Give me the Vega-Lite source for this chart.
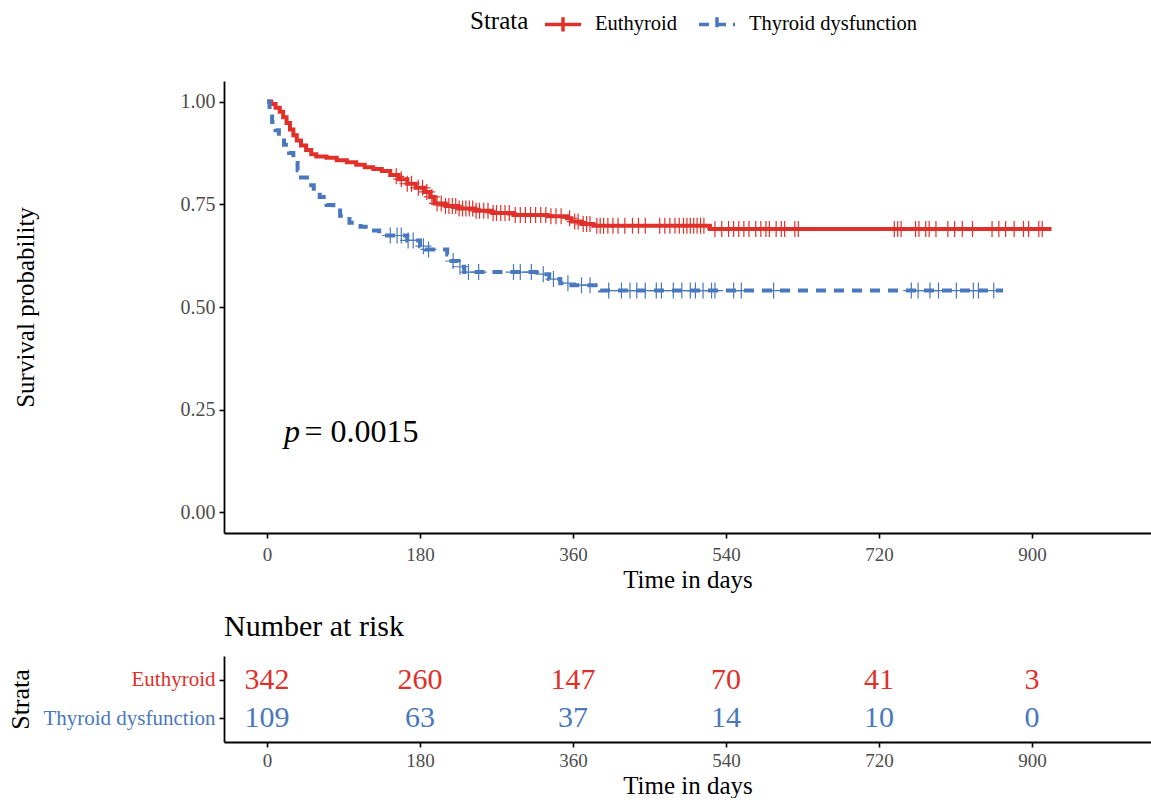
{
  "$schema": "https://vega.github.io/schema/vega-lite/v6.json",
  "background": "white",
  "padding": {"left": 7, "top": 4, "right": 0, "bottom": 0},
  "datasets": {
    "curve": [
      {"strata": "Euthyroid", "time": 0, "surv": 1.0},
      {"strata": "Euthyroid", "time": 5, "surv": 0.994},
      {"strata": "Euthyroid", "time": 10, "surv": 0.985},
      {"strata": "Euthyroid", "time": 15, "surv": 0.975},
      {"strata": "Euthyroid", "time": 19, "surv": 0.962},
      {"strata": "Euthyroid", "time": 23, "surv": 0.948},
      {"strata": "Euthyroid", "time": 27, "surv": 0.932},
      {"strata": "Euthyroid", "time": 31, "surv": 0.918},
      {"strata": "Euthyroid", "time": 35, "surv": 0.905},
      {"strata": "Euthyroid", "time": 40, "surv": 0.893},
      {"strata": "Euthyroid", "time": 46, "surv": 0.882},
      {"strata": "Euthyroid", "time": 52, "surv": 0.872},
      {"strata": "Euthyroid", "time": 58, "surv": 0.866},
      {"strata": "Euthyroid", "time": 70, "surv": 0.863},
      {"strata": "Euthyroid", "time": 82, "surv": 0.857},
      {"strata": "Euthyroid", "time": 94, "surv": 0.852},
      {"strata": "Euthyroid", "time": 105, "surv": 0.846},
      {"strata": "Euthyroid", "time": 115, "surv": 0.84},
      {"strata": "Euthyroid", "time": 125, "surv": 0.836},
      {"strata": "Euthyroid", "time": 135, "surv": 0.831},
      {"strata": "Euthyroid", "time": 145, "surv": 0.821},
      {"strata": "Euthyroid", "time": 155, "surv": 0.811},
      {"strata": "Euthyroid", "time": 165, "surv": 0.8},
      {"strata": "Euthyroid", "time": 175, "surv": 0.79},
      {"strata": "Euthyroid", "time": 185, "surv": 0.78},
      {"strata": "Euthyroid", "time": 192, "surv": 0.768},
      {"strata": "Euthyroid", "time": 197, "surv": 0.752},
      {"strata": "Euthyroid", "time": 210, "surv": 0.746},
      {"strata": "Euthyroid", "time": 225, "surv": 0.74},
      {"strata": "Euthyroid", "time": 245, "surv": 0.734},
      {"strata": "Euthyroid", "time": 265, "surv": 0.729},
      {"strata": "Euthyroid", "time": 290, "surv": 0.724},
      {"strata": "Euthyroid", "time": 330, "surv": 0.721},
      {"strata": "Euthyroid", "time": 353, "surv": 0.716},
      {"strata": "Euthyroid", "time": 358, "surv": 0.708},
      {"strata": "Euthyroid", "time": 370, "surv": 0.702},
      {"strata": "Euthyroid", "time": 384, "surv": 0.698},
      {"strata": "Euthyroid", "time": 521, "surv": 0.69},
      {"strata": "Euthyroid", "time": 923, "surv": 0.69},
      {"strata": "Thyroid dysfunction", "time": 0, "surv": 1.0},
      {"strata": "Thyroid dysfunction", "time": 3, "surv": 0.97},
      {"strata": "Thyroid dysfunction", "time": 6, "surv": 0.95},
      {"strata": "Thyroid dysfunction", "time": 10, "surv": 0.93},
      {"strata": "Thyroid dysfunction", "time": 14, "surv": 0.91},
      {"strata": "Thyroid dysfunction", "time": 20, "surv": 0.895},
      {"strata": "Thyroid dysfunction", "time": 26, "surv": 0.875},
      {"strata": "Thyroid dysfunction", "time": 31, "surv": 0.856},
      {"strata": "Thyroid dysfunction", "time": 36, "surv": 0.833},
      {"strata": "Thyroid dysfunction", "time": 40, "surv": 0.815},
      {"strata": "Thyroid dysfunction", "time": 47, "surv": 0.796},
      {"strata": "Thyroid dysfunction", "time": 55, "surv": 0.782},
      {"strata": "Thyroid dysfunction", "time": 62, "surv": 0.768},
      {"strata": "Thyroid dysfunction", "time": 70, "surv": 0.748},
      {"strata": "Thyroid dysfunction", "time": 78, "surv": 0.735},
      {"strata": "Thyroid dysfunction", "time": 86, "surv": 0.722},
      {"strata": "Thyroid dysfunction", "time": 97, "surv": 0.705},
      {"strata": "Thyroid dysfunction", "time": 110, "surv": 0.695},
      {"strata": "Thyroid dysfunction", "time": 120, "surv": 0.686},
      {"strata": "Thyroid dysfunction", "time": 132, "surv": 0.674},
      {"strata": "Thyroid dysfunction", "time": 165, "surv": 0.662},
      {"strata": "Thyroid dysfunction", "time": 180, "surv": 0.648},
      {"strata": "Thyroid dysfunction", "time": 186, "surv": 0.64},
      {"strata": "Thyroid dysfunction", "time": 212, "surv": 0.628},
      {"strata": "Thyroid dysfunction", "time": 217, "surv": 0.612},
      {"strata": "Thyroid dysfunction", "time": 225, "surv": 0.598},
      {"strata": "Thyroid dysfunction", "time": 232, "surv": 0.585},
      {"strata": "Thyroid dysfunction", "time": 320, "surv": 0.58},
      {"strata": "Thyroid dysfunction", "time": 332, "surv": 0.568},
      {"strata": "Thyroid dysfunction", "time": 345, "surv": 0.558},
      {"strata": "Thyroid dysfunction", "time": 355, "surv": 0.553},
      {"strata": "Thyroid dysfunction", "time": 392, "surv": 0.54},
      {"strata": "Thyroid dysfunction", "time": 866, "surv": 0.54}
    ],
    "censor": [
      {"strata": "Euthyroid", "time": 152, "surv": 0.818},
      {"strata": "Euthyroid", "time": 158, "surv": 0.811},
      {"strata": "Euthyroid", "time": 165, "surv": 0.8},
      {"strata": "Euthyroid", "time": 170, "surv": 0.8},
      {"strata": "Euthyroid", "time": 178, "surv": 0.79},
      {"strata": "Euthyroid", "time": 183, "surv": 0.79},
      {"strata": "Euthyroid", "time": 188, "surv": 0.78},
      {"strata": "Euthyroid", "time": 194, "surv": 0.768},
      {"strata": "Euthyroid", "time": 200, "surv": 0.752},
      {"strata": "Euthyroid", "time": 205, "surv": 0.752},
      {"strata": "Euthyroid", "time": 210, "surv": 0.746},
      {"strata": "Euthyroid", "time": 214, "surv": 0.746},
      {"strata": "Euthyroid", "time": 218, "surv": 0.746},
      {"strata": "Euthyroid", "time": 222, "surv": 0.746},
      {"strata": "Euthyroid", "time": 226, "surv": 0.74},
      {"strata": "Euthyroid", "time": 230, "surv": 0.74},
      {"strata": "Euthyroid", "time": 234, "surv": 0.74},
      {"strata": "Euthyroid", "time": 238, "surv": 0.74},
      {"strata": "Euthyroid", "time": 242, "surv": 0.74},
      {"strata": "Euthyroid", "time": 246, "surv": 0.734},
      {"strata": "Euthyroid", "time": 250, "surv": 0.734},
      {"strata": "Euthyroid", "time": 255, "surv": 0.734},
      {"strata": "Euthyroid", "time": 260, "surv": 0.734},
      {"strata": "Euthyroid", "time": 266, "surv": 0.729},
      {"strata": "Euthyroid", "time": 270, "surv": 0.729},
      {"strata": "Euthyroid", "time": 275, "surv": 0.729},
      {"strata": "Euthyroid", "time": 280, "surv": 0.729},
      {"strata": "Euthyroid", "time": 285, "surv": 0.729},
      {"strata": "Euthyroid", "time": 292, "surv": 0.724},
      {"strata": "Euthyroid", "time": 298, "surv": 0.724},
      {"strata": "Euthyroid", "time": 304, "surv": 0.724},
      {"strata": "Euthyroid", "time": 310, "surv": 0.724},
      {"strata": "Euthyroid", "time": 316, "surv": 0.724},
      {"strata": "Euthyroid", "time": 322, "surv": 0.724},
      {"strata": "Euthyroid", "time": 328, "surv": 0.724},
      {"strata": "Euthyroid", "time": 334, "surv": 0.721},
      {"strata": "Euthyroid", "time": 340, "surv": 0.721},
      {"strata": "Euthyroid", "time": 346, "surv": 0.721},
      {"strata": "Euthyroid", "time": 356, "surv": 0.716},
      {"strata": "Euthyroid", "time": 362, "surv": 0.708},
      {"strata": "Euthyroid", "time": 366, "surv": 0.708},
      {"strata": "Euthyroid", "time": 372, "surv": 0.702},
      {"strata": "Euthyroid", "time": 376, "surv": 0.702},
      {"strata": "Euthyroid", "time": 380, "surv": 0.702},
      {"strata": "Euthyroid", "time": 388, "surv": 0.698},
      {"strata": "Euthyroid", "time": 392, "surv": 0.698},
      {"strata": "Euthyroid", "time": 396, "surv": 0.698},
      {"strata": "Euthyroid", "time": 401, "surv": 0.698},
      {"strata": "Euthyroid", "time": 407, "surv": 0.698},
      {"strata": "Euthyroid", "time": 413, "surv": 0.698},
      {"strata": "Euthyroid", "time": 421, "surv": 0.698},
      {"strata": "Euthyroid", "time": 430, "surv": 0.698},
      {"strata": "Euthyroid", "time": 437, "surv": 0.698},
      {"strata": "Euthyroid", "time": 445, "surv": 0.698},
      {"strata": "Euthyroid", "time": 462, "surv": 0.698},
      {"strata": "Euthyroid", "time": 468, "surv": 0.698},
      {"strata": "Euthyroid", "time": 474, "surv": 0.698},
      {"strata": "Euthyroid", "time": 480, "surv": 0.698},
      {"strata": "Euthyroid", "time": 485, "surv": 0.698},
      {"strata": "Euthyroid", "time": 490, "surv": 0.698},
      {"strata": "Euthyroid", "time": 494, "surv": 0.698},
      {"strata": "Euthyroid", "time": 498, "surv": 0.698},
      {"strata": "Euthyroid", "time": 502, "surv": 0.698},
      {"strata": "Euthyroid", "time": 506, "surv": 0.698},
      {"strata": "Euthyroid", "time": 510, "surv": 0.698},
      {"strata": "Euthyroid", "time": 514, "surv": 0.698},
      {"strata": "Euthyroid", "time": 527, "surv": 0.69},
      {"strata": "Euthyroid", "time": 535, "surv": 0.69},
      {"strata": "Euthyroid", "time": 543, "surv": 0.69},
      {"strata": "Euthyroid", "time": 549, "surv": 0.69},
      {"strata": "Euthyroid", "time": 555, "surv": 0.69},
      {"strata": "Euthyroid", "time": 561, "surv": 0.69},
      {"strata": "Euthyroid", "time": 567, "surv": 0.69},
      {"strata": "Euthyroid", "time": 575, "surv": 0.69},
      {"strata": "Euthyroid", "time": 581, "surv": 0.69},
      {"strata": "Euthyroid", "time": 587, "surv": 0.69},
      {"strata": "Euthyroid", "time": 591, "surv": 0.69},
      {"strata": "Euthyroid", "time": 599, "surv": 0.69},
      {"strata": "Euthyroid", "time": 605, "surv": 0.69},
      {"strata": "Euthyroid", "time": 609, "surv": 0.69},
      {"strata": "Euthyroid", "time": 621, "surv": 0.69},
      {"strata": "Euthyroid", "time": 625, "surv": 0.69},
      {"strata": "Euthyroid", "time": 738, "surv": 0.69},
      {"strata": "Euthyroid", "time": 742, "surv": 0.69},
      {"strata": "Euthyroid", "time": 746, "surv": 0.69},
      {"strata": "Euthyroid", "time": 763, "surv": 0.69},
      {"strata": "Euthyroid", "time": 767, "surv": 0.69},
      {"strata": "Euthyroid", "time": 775, "surv": 0.69},
      {"strata": "Euthyroid", "time": 779, "surv": 0.69},
      {"strata": "Euthyroid", "time": 787, "surv": 0.69},
      {"strata": "Euthyroid", "time": 801, "surv": 0.69},
      {"strata": "Euthyroid", "time": 809, "surv": 0.69},
      {"strata": "Euthyroid", "time": 818, "surv": 0.69},
      {"strata": "Euthyroid", "time": 830, "surv": 0.69},
      {"strata": "Euthyroid", "time": 853, "surv": 0.69},
      {"strata": "Euthyroid", "time": 861, "surv": 0.69},
      {"strata": "Euthyroid", "time": 869, "surv": 0.69},
      {"strata": "Euthyroid", "time": 879, "surv": 0.69},
      {"strata": "Euthyroid", "time": 890, "surv": 0.69},
      {"strata": "Euthyroid", "time": 896, "surv": 0.69},
      {"strata": "Euthyroid", "time": 908, "surv": 0.69},
      {"strata": "Euthyroid", "time": 912, "surv": 0.69},
      {"strata": "Thyroid dysfunction", "time": 145, "surv": 0.674},
      {"strata": "Thyroid dysfunction", "time": 153, "surv": 0.674},
      {"strata": "Thyroid dysfunction", "time": 158, "surv": 0.674},
      {"strata": "Thyroid dysfunction", "time": 166, "surv": 0.662},
      {"strata": "Thyroid dysfunction", "time": 172, "surv": 0.662},
      {"strata": "Thyroid dysfunction", "time": 184, "surv": 0.648},
      {"strata": "Thyroid dysfunction", "time": 190, "surv": 0.64},
      {"strata": "Thyroid dysfunction", "time": 219, "surv": 0.612},
      {"strata": "Thyroid dysfunction", "time": 227, "surv": 0.598},
      {"strata": "Thyroid dysfunction", "time": 237, "surv": 0.585},
      {"strata": "Thyroid dysfunction", "time": 249, "surv": 0.585},
      {"strata": "Thyroid dysfunction", "time": 290, "surv": 0.585},
      {"strata": "Thyroid dysfunction", "time": 298, "surv": 0.585},
      {"strata": "Thyroid dysfunction", "time": 311, "surv": 0.585},
      {"strata": "Thyroid dysfunction", "time": 325, "surv": 0.58},
      {"strata": "Thyroid dysfunction", "time": 337, "surv": 0.568},
      {"strata": "Thyroid dysfunction", "time": 354, "surv": 0.558},
      {"strata": "Thyroid dysfunction", "time": 370, "surv": 0.553},
      {"strata": "Thyroid dysfunction", "time": 380, "surv": 0.553},
      {"strata": "Thyroid dysfunction", "time": 402, "surv": 0.54},
      {"strata": "Thyroid dysfunction", "time": 417, "surv": 0.54},
      {"strata": "Thyroid dysfunction", "time": 427, "surv": 0.54},
      {"strata": "Thyroid dysfunction", "time": 435, "surv": 0.54},
      {"strata": "Thyroid dysfunction", "time": 445, "surv": 0.54},
      {"strata": "Thyroid dysfunction", "time": 458, "surv": 0.54},
      {"strata": "Thyroid dysfunction", "time": 464, "surv": 0.54},
      {"strata": "Thyroid dysfunction", "time": 478, "surv": 0.54},
      {"strata": "Thyroid dysfunction", "time": 488, "surv": 0.54},
      {"strata": "Thyroid dysfunction", "time": 498, "surv": 0.54},
      {"strata": "Thyroid dysfunction", "time": 504, "surv": 0.54},
      {"strata": "Thyroid dysfunction", "time": 513, "surv": 0.54},
      {"strata": "Thyroid dysfunction", "time": 523, "surv": 0.54},
      {"strata": "Thyroid dysfunction", "time": 527, "surv": 0.54},
      {"strata": "Thyroid dysfunction", "time": 549, "surv": 0.54},
      {"strata": "Thyroid dysfunction", "time": 558, "surv": 0.54},
      {"strata": "Thyroid dysfunction", "time": 596, "surv": 0.54},
      {"strata": "Thyroid dysfunction", "time": 758, "surv": 0.54},
      {"strata": "Thyroid dysfunction", "time": 766, "surv": 0.54},
      {"strata": "Thyroid dysfunction", "time": 780, "surv": 0.54},
      {"strata": "Thyroid dysfunction", "time": 790, "surv": 0.54},
      {"strata": "Thyroid dysfunction", "time": 811, "surv": 0.54},
      {"strata": "Thyroid dysfunction", "time": 831, "surv": 0.54},
      {"strata": "Thyroid dysfunction", "time": 837, "surv": 0.54},
      {"strata": "Thyroid dysfunction", "time": 855, "surv": 0.54}
    ],
    "risk": [
      {"strata": "Euthyroid", "time": 0, "n": 342},
      {"strata": "Euthyroid", "time": 180, "n": 260},
      {"strata": "Euthyroid", "time": 360, "n": 147},
      {"strata": "Euthyroid", "time": 540, "n": 70},
      {"strata": "Euthyroid", "time": 720, "n": 41},
      {"strata": "Euthyroid", "time": 900, "n": 3},
      {"strata": "Thyroid dysfunction", "time": 0, "n": 109},
      {"strata": "Thyroid dysfunction", "time": 180, "n": 63},
      {"strata": "Thyroid dysfunction", "time": 360, "n": 37},
      {"strata": "Thyroid dysfunction", "time": 540, "n": 14},
      {"strata": "Thyroid dysfunction", "time": 720, "n": 10},
      {"strata": "Thyroid dysfunction", "time": 900, "n": 0}
    ],
    "pvalue": [
      {"label": "p", "time": 20, "surv": 0.195},
      {"label": "= 0.0015", "time": 44, "surv": 0.195}
    ]
  },
  "spacing": 20,
  "vconcat": [
    {
      "width": 927,
      "height": 452,
      "layer": [
        {
          "data": {"name": "curve"},
          "mark": {"type": "line", "interpolate": "step-after", "strokeWidth": 4},
          "encoding": {
            "x": {
              "field": "time", "type": "quantitative",
              "scale": {"domain": [-50.6, 1040], "nice": false, "zero": false},
              "axis": {"values": [0, 180, 360, 540, 720, 900], "title": "Time in days", "labelPadding": 7}
            },
            "y": {
              "field": "surv", "type": "quantitative",
              "scale": {"domain": [-0.05, 1.05], "nice": false, "zero": false},
              "axis": {"values": [0, 0.25, 0.5, 0.75, 1], "format": ".2f", "title": "Survival probability", "titleX": -186, "labelFontSize": 20}
            },
            "color": {
              "field": "strata", "type": "nominal",
              "scale": {"domain": ["Euthyroid", "Thyroid dysfunction"], "range": ["#E0302A", "#4A78BC"]},
              "legend": {
                "title": "Strata", "orient": "none", "legendX": 246, "legendY": -77,
                "direction": "horizontal", "titleOrient": "left",
                "symbolType": "M-1,0H1M0,-0.4V0.4", "symbolSize": 1300, "symbolStrokeWidth": 3.5,
                "titleFontSize": 25, "titleFontWeight": "normal", "titleColor": "black",
                "labelFontSize": 20.5, "labelColor": "black", "labelOffset": 12, "labelLimit": 400,
                "columnPadding": 14, "titlePadding": 14,
                "encode": {
                  "symbols": {
                    "update": {
                      "strokeDash": {"signal": "datum.value == 'Thyroid dysfunction' ? [10, 7] : [1, 0]"}
                    }
                  }
                }
              }
            },
            "strokeDash": {
              "field": "strata", "type": "nominal",
              "scale": {"domain": ["Euthyroid", "Thyroid dysfunction"], "range": [[1, 0], [10, 8]]},
              "legend": null
            }
          }
        },
        {
          "data": {"name": "censor"},
          "mark": {"type": "point", "shape": "M0,-1V1M-1,0H1", "size": 256, "filled": false, "strokeWidth": 1.2, "opacity": 1},
          "encoding": {
            "x": {"field": "time", "type": "quantitative"},
            "y": {"field": "surv", "type": "quantitative"},
            "color": {"field": "strata", "type": "nominal", "legend": null}
          }
        },
        {
          "data": {"name": "pvalue"},
          "transform": [{"filter": "datum.label == 'p'"}],
          "mark": {"type": "text", "fontSize": 32, "fontStyle": "italic", "align": "left", "baseline": "middle", "color": "black"},
          "encoding": {
            "x": {"field": "time", "type": "quantitative"},
            "y": {"field": "surv", "type": "quantitative"},
            "text": {"field": "label"}
          }
        },
        {
          "data": {"name": "pvalue"},
          "transform": [{"filter": "datum.label != 'p'"}],
          "mark": {"type": "text", "fontSize": 32, "align": "left", "baseline": "middle", "color": "black"},
          "encoding": {
            "x": {"field": "time", "type": "quantitative"},
            "y": {"field": "surv", "type": "quantitative"},
            "text": {"field": "label"}
          }
        }
      ]
    },
    {
      "width": 927,
      "height": 86,
      "title": {"text": "Number at risk", "anchor": "start", "frame": "group", "fontSize": 30, "fontWeight": "normal", "offset": 14},
      "data": {"name": "risk"},
      "mark": {"type": "text", "fontSize": 30, "baseline": "middle"},
      "encoding": {
        "x": {
          "field": "time", "type": "quantitative",
          "scale": {"domain": [-50.6, 1040], "nice": false, "zero": false},
          "axis": {"values": [0, 180, 360, 540, 720, 900], "title": "Time in days", "labelPadding": 4}
        },
        "y": {
          "field": "strata", "type": "nominal",
          "sort": ["Euthyroid", "Thyroid dysfunction"],
          "scale": {"type": "point", "padding": 0.63},
          "axis": {
            "title": "Strata", "titleX": -191, "titleFontSize": 26, "labelFontSize": 21,
            "labelColor": {"condition": {"test": "datum.value == 'Euthyroid'", "value": "#E0302A"}, "value": "#4A78BC"}
          }
        },
        "text": {"field": "n", "type": "quantitative"},
        "color": {
          "field": "strata", "type": "nominal",
          "scale": {"domain": ["Euthyroid", "Thyroid dysfunction"], "range": ["#E0302A", "#4A78BC"]},
          "legend": null
        }
      }
    }
  ],
  "resolve": {"scale": {"color": "independent"}, "legend": {"color": "independent"}},
  "config": {
    "font": "Liberation Serif",
    "view": {"stroke": null},
    "title": {"color": "black"},
    "axis": {
      "grid": false,
      "domainColor": "black", "domainWidth": 1.8,
      "tickColor": "black", "tickWidth": 1.6, "tickSize": 5,
      "labelColor": "#4D4D4D", "labelFontSize": 19, "labelPadding": 4,
      "titleColor": "black", "titleFontSize": 25, "titleFontWeight": "normal", "titlePadding": 3
    },
    "legend": {"labelFont": "Liberation Serif", "titleFont": "Liberation Serif"}
  }
}
